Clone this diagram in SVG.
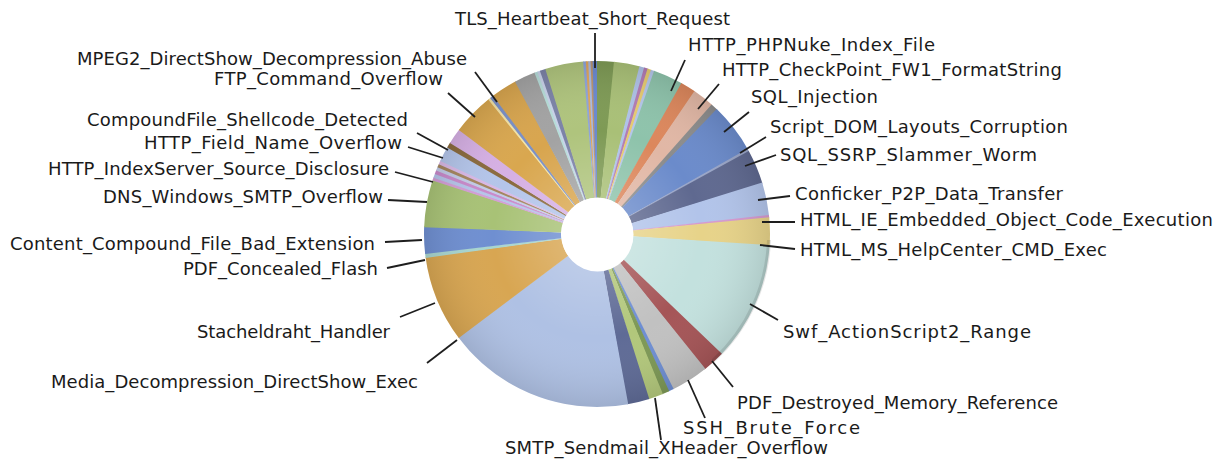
<svg xmlns="http://www.w3.org/2000/svg" width="1221" height="460" viewBox="0 0 1221 460">
<style>
.s{fill:none;stroke-width:137}
.t{font-family:"DejaVu Sans","Liberation Sans",sans-serif;font-size:18px;fill:#1a1a1a}
.c line{stroke:#1e1e1e;stroke-width:1.8}
</style>
<defs>
<radialGradient id="shade" gradientUnits="userSpaceOnUse" cx="597" cy="234" r="173">
<stop offset="0.2" stop-color="#fff" stop-opacity="0.18"/>
<stop offset="0.6" stop-color="#fff" stop-opacity="0"/>
<stop offset="1" stop-color="#000" stop-opacity="0.1"/>
</radialGradient>
</defs>
<rect width="1221" height="460" fill="#fff"/>
<g id="pie" transform="rotate(-90 597 234)">
<circle class="s" cx="597" cy="234" r="104.5" pathLength="360" stroke="#7E9A55" stroke-dasharray="6 360" stroke-dashoffset="0"/>
<circle class="s" cx="597" cy="234" r="104.5" pathLength="360" stroke="#A9C077" stroke-dasharray="8.8 360" stroke-dashoffset="-5.7"/>
<circle class="s" cx="597" cy="234" r="104.5" pathLength="360" stroke="#AFC2E8" stroke-dasharray="1.9 360" stroke-dashoffset="-14.2"/>
<circle class="s" cx="597" cy="234" r="104.5" pathLength="360" stroke="#B27CB4" stroke-dasharray="1.5 360" stroke-dashoffset="-15.8"/>
<circle class="s" cx="597" cy="234" r="104.5" pathLength="360" stroke="#E6CB70" stroke-dasharray="1.5 360" stroke-dashoffset="-17"/>
<circle class="s" cx="597" cy="234" r="104.5" pathLength="360" stroke="#B4C6EA" stroke-dasharray="1.4 360" stroke-dashoffset="-18.2"/>
<g id="slice-phpnuke"><circle class="s" cx="597" cy="234" r="104.5" pathLength="360" stroke="#8EC3AB" stroke-dasharray="10.2 360" stroke-dashoffset="-19.3"/></g>
<circle class="s" cx="597" cy="234" r="104.5" pathLength="360" stroke="#DC875C" stroke-dasharray="5.4 360" stroke-dashoffset="-29.2"/>
<circle class="s" cx="597" cy="234" r="104.5" pathLength="360" stroke="#E1B7A5" stroke-dasharray="7.5 360" stroke-dashoffset="-34.3"/>
<g id="slice-checkpoint"><circle class="s" cx="597" cy="234" r="104.5" pathLength="360" stroke="#8C8C8C" stroke-dasharray="2.6 360" stroke-dashoffset="-41.5"/></g>
<g id="slice-sqlinjection"><circle class="s" cx="597" cy="234" r="104.5" pathLength="360" stroke="#6B8BCB" stroke-dasharray="17 360" stroke-dashoffset="-43.8"/></g>
<g id="slice-scriptdom"><circle class="s" cx="597" cy="234" r="104.5" pathLength="360" stroke="#9AA6C8" stroke-dasharray="1.1 360" stroke-dashoffset="-60.5"/></g>
<g id="slice-ssrp"><circle class="s" cx="597" cy="234" r="104.5" pathLength="360" stroke="#5F6990" stroke-dasharray="11.7 360" stroke-dashoffset="-61.3"/></g>
<g id="slice-conficker"><circle class="s" cx="597" cy="234" r="104.5" pathLength="360" stroke="#B2C4EA" stroke-dasharray="11.2 360" stroke-dashoffset="-72.7"/></g>
<g id="slice-htmlie"><circle class="s" cx="597" cy="234" r="104.5" pathLength="360" stroke="#D59AD0" stroke-dasharray="1.1 360" stroke-dashoffset="-83.6"/></g>
<g id="slice-helpcenter"><circle class="s" cx="597" cy="234" r="104.5" pathLength="360" stroke="#E7D389" stroke-dasharray="9.7 360" stroke-dashoffset="-84.4"/></g>
<g id="slice-swf"><circle class="s" cx="597" cy="234" r="104.5" pathLength="360" stroke="#C3E1DE" stroke-dasharray="40.3 360" stroke-dashoffset="-93.8"/></g>
<g id="slice-pdfdestroyed"><circle class="s" cx="597" cy="234" r="104.5" pathLength="360" stroke="#A55557" stroke-dasharray="7.7 360" stroke-dashoffset="-133.8"/></g>
<g id="slice-ssh"><circle class="s" cx="597" cy="234" r="104.5" pathLength="360" stroke="#C1C1C1" stroke-dasharray="12.8 360" stroke-dashoffset="-141.2"/></g>
<circle class="s" cx="597" cy="234" r="104.5" pathLength="360" stroke="#6E8ED2" stroke-dasharray="1.9 360" stroke-dashoffset="-153.7"/>
<circle class="s" cx="597" cy="234" r="104.5" pathLength="360" stroke="#7D9856" stroke-dasharray="2.6 360" stroke-dashoffset="-155.3"/>
<g id="slice-smtp"><circle class="s" cx="597" cy="234" r="104.5" pathLength="360" stroke="#B2C77B" stroke-dasharray="5.1 360" stroke-dashoffset="-157.6"/></g>
<circle class="s" cx="597" cy="234" r="104.5" pathLength="360" stroke="#5F6B96" stroke-dasharray="7.5 360" stroke-dashoffset="-162.4"/>
<g id="slice-media"><circle class="s" cx="597" cy="234" r="104.5" pathLength="360" stroke="#AFC1E4" stroke-dasharray="63.7 360" stroke-dashoffset="-169.6"/></g>
<g id="slice-stacheldraht"><circle class="s" cx="597" cy="234" r="104.5" pathLength="360" stroke="#D8A652" stroke-dasharray="29.3 360" stroke-dashoffset="-233"/></g>
<g id="slice-pdfconcealed"><circle class="s" cx="597" cy="234" r="104.5" pathLength="360" stroke="#A8D5CF" stroke-dasharray="1.6 360" stroke-dashoffset="-262"/></g>
<g id="slice-content"><circle class="s" cx="597" cy="234" r="104.5" pathLength="360" stroke="#6F8FD1" stroke-dasharray="9.3 360" stroke-dashoffset="-263.3"/></g>
<g id="slice-dns"><circle class="s" cx="597" cy="234" r="104.5" pathLength="360" stroke="#A8C276" stroke-dasharray="16 360" stroke-dashoffset="-272.3"/></g>
<g id="slice-indexserver"><circle class="s" cx="597" cy="234" r="104.5" pathLength="360" stroke="#D49ED6" stroke-dasharray="1.3 360" stroke-dashoffset="-288"/></g>
<circle class="s" cx="597" cy="234" r="104.5" pathLength="360" stroke="#B6C5EA" stroke-dasharray="1.6 360" stroke-dashoffset="-289"/>
<circle class="s" cx="597" cy="234" r="104.5" pathLength="360" stroke="#C98ACB" stroke-dasharray="1.5 360" stroke-dashoffset="-290.3"/>
<circle class="s" cx="597" cy="234" r="104.5" pathLength="360" stroke="#C3CCE8" stroke-dasharray="1.5 360" stroke-dashoffset="-291.5"/>
<circle class="s" cx="597" cy="234" r="104.5" pathLength="360" stroke="#A5865F" stroke-dasharray="1.4 360" stroke-dashoffset="-292.7"/>
<circle class="s" cx="597" cy="234" r="104.5" pathLength="360" stroke="#D9B9E6" stroke-dasharray="1.5 360" stroke-dashoffset="-293.8"/>
<g id="slice-fieldname"><circle class="s" cx="597" cy="234" r="104.5" pathLength="360" stroke="#B4C5EA" stroke-dasharray="5.3 360" stroke-dashoffset="-295"/></g>
<g id="slice-compoundfile"><circle class="s" cx="597" cy="234" r="104.5" pathLength="360" stroke="#8A6A3D" stroke-dasharray="2.1 360" stroke-dashoffset="-300"/></g>
<circle class="s" cx="597" cy="234" r="104.5" pathLength="360" stroke="#D6B0E4" stroke-dasharray="5.5 360" stroke-dashoffset="-301.8"/>
<g id="slice-ftp"><circle class="s" cx="597" cy="234" r="104.5" pathLength="360" stroke="#D9A74F" stroke-dasharray="14.3 360" stroke-dashoffset="-307"/></g>
<circle class="s" cx="597" cy="234" r="104.5" pathLength="360" stroke="#F3E3A6" stroke-dasharray="1.1 360" stroke-dashoffset="-321"/>
<g id="slice-mpeg2"><circle class="s" cx="597" cy="234" r="104.5" pathLength="360" stroke="#7A90C8" stroke-dasharray="1.5 360" stroke-dashoffset="-321.8"/></g>
<circle class="s" cx="597" cy="234" r="104.5" pathLength="360" stroke="#D8A54E" stroke-dasharray="9 360" stroke-dashoffset="-323"/>
<circle class="s" cx="597" cy="234" r="104.5" pathLength="360" stroke="#A3A3A3" stroke-dasharray="7.4 360" stroke-dashoffset="-331.7"/>
<circle class="s" cx="597" cy="234" r="104.5" pathLength="360" stroke="#B7DDD9" stroke-dasharray="1.3 360" stroke-dashoffset="-338.8"/>
<circle class="s" cx="597" cy="234" r="104.5" pathLength="360" stroke="#C9D2EA" stroke-dasharray="1.2 360" stroke-dashoffset="-339.8"/>
<circle class="s" cx="597" cy="234" r="104.5" pathLength="360" stroke="#7C83A8" stroke-dasharray="2.2 360" stroke-dashoffset="-340.7"/>
<circle class="s" cx="597" cy="234" r="104.5" pathLength="360" stroke="#AFC47D" stroke-dasharray="13 360" stroke-dashoffset="-342.6"/>
<circle class="s" cx="597" cy="234" r="104.5" pathLength="360" stroke="#8EA4DA" stroke-dasharray="1.2 360" stroke-dashoffset="-355.3"/>
<circle class="s" cx="597" cy="234" r="104.5" pathLength="360" stroke="#E0A65A" stroke-dasharray="1.1 360" stroke-dashoffset="-356.2"/>
<circle class="s" cx="597" cy="234" r="104.5" pathLength="360" stroke="#AAB9E0" stroke-dasharray="1.1 360" stroke-dashoffset="-357"/>
<circle class="s" cx="597" cy="234" r="104.5" pathLength="360" stroke="#B99470" stroke-dasharray="1 360" stroke-dashoffset="-357.8"/>
<g id="slice-tls"><circle class="s" cx="597" cy="234" r="104.5" pathLength="360" stroke="#6A89CF" stroke-dasharray="1.5 360" stroke-dashoffset="-358.5"/></g>
</g>
<circle cx="597" cy="234" r="173" fill="url(#shade)"/>
<path d="M769 240 A172 172 0 0 1 713 361" fill="none" stroke="#000" stroke-opacity="0.1" stroke-width="4"/>
<ellipse cx="597.5" cy="234.5" rx="36" ry="37" fill="#fff"/>
<g class="c" id="connectors">
<line x1="595" y1="33" x2="595" y2="68"/>
<line x1="685" y1="60" x2="671" y2="91"/>
<line x1="719" y1="84" x2="698" y2="109"/>
<line x1="749" y1="112" x2="724" y2="132"/>
<line x1="766" y1="137" x2="740" y2="153"/>
<line x1="776" y1="155" x2="745" y2="166"/>
<line x1="790" y1="196" x2="758" y2="200"/>
<line x1="795" y1="222" x2="762" y2="222"/>
<line x1="795" y1="249" x2="760" y2="245"/>
<line x1="778" y1="320" x2="750" y2="304"/>
<line x1="733" y1="387" x2="712" y2="361"/>
<line x1="705" y1="418" x2="688" y2="380"/>
<line x1="661" y1="440" x2="655" y2="398"/>
<line x1="475" y1="72" x2="497" y2="102"/>
<line x1="448" y1="93" x2="475" y2="117"/>
<line x1="417" y1="133" x2="448" y2="150"/>
<line x1="408" y1="147" x2="443" y2="158"/>
<line x1="395" y1="172" x2="433" y2="182"/>
<line x1="388" y1="200" x2="427" y2="202"/>
<line x1="385" y1="242" x2="422" y2="240"/>
<line x1="387" y1="268" x2="425" y2="260"/>
<line x1="400" y1="317" x2="435" y2="303"/>
<line x1="427" y1="363" x2="457" y2="340"/>
</g>
<g id="labels">
<text class="t" x="455" y="25" textLength="275">TLS_Heartbeat_Short_Request</text>
<text class="t" x="688" y="51" textLength="247">HTTP_PHPNuke_Index_File</text>
<text class="t" x="722" y="76" textLength="340">HTTP_CheckPoint_FW1_FormatString</text>
<text class="t" x="751" y="103" textLength="127">SQL_Injection</text>
<text class="t" x="770" y="133" textLength="298">Script_DOM_Layouts_Corruption</text>
<text class="t" x="780" y="161" textLength="257">SQL_SSRP_Slammer_Worm</text>
<text class="t" x="795" y="200" textLength="268">Conficker_P2P_Data_Transfer</text>
<text class="t" x="800" y="226" textLength="413">HTML_IE_Embedded_Object_Code_Execution</text>
<text class="t" x="800" y="256" textLength="307">HTML_MS_HelpCenter_CMD_Exec</text>
<text class="t" x="783" y="338" textLength="248">Swf_ActionScript2_Range</text>
<text class="t" x="737" y="409" textLength="321">PDF_Destroyed_Memory_Reference</text>
<text class="t" x="683" y="434" textLength="177">SSH_Brute_Force</text>
<text class="t" x="505" y="454" textLength="323">SMTP_Sendmail_XHeader_Overflow</text>
<text class="t" x="77" y="65" textLength="390">MPEG2_DirectShow_Decompression_Abuse</text>
<text class="t" x="214" y="85" textLength="229">FTP_Command_Overflow</text>
<text class="t" x="87" y="126" textLength="321">CompoundFile_Shellcode_Detected</text>
<text class="t" x="144" y="149" textLength="258">HTTP_Field_Name_Overflow</text>
<text class="t" x="48" y="175" textLength="341">HTTP_IndexServer_Source_Disclosure</text>
<text class="t" x="103" y="203" textLength="280">DNS_Windows_SMTP_Overflow</text>
<text class="t" x="10" y="250" textLength="365">Content_Compound_File_Bad_Extension</text>
<text class="t" x="183" y="275" textLength="195">PDF_Concealed_Flash</text>
<text class="t" x="197" y="338" textLength="193">Stacheldraht_Handler</text>
<text class="t" x="51" y="388" textLength="367">Media_Decompression_DirectShow_Exec</text>
</g>
</svg>
